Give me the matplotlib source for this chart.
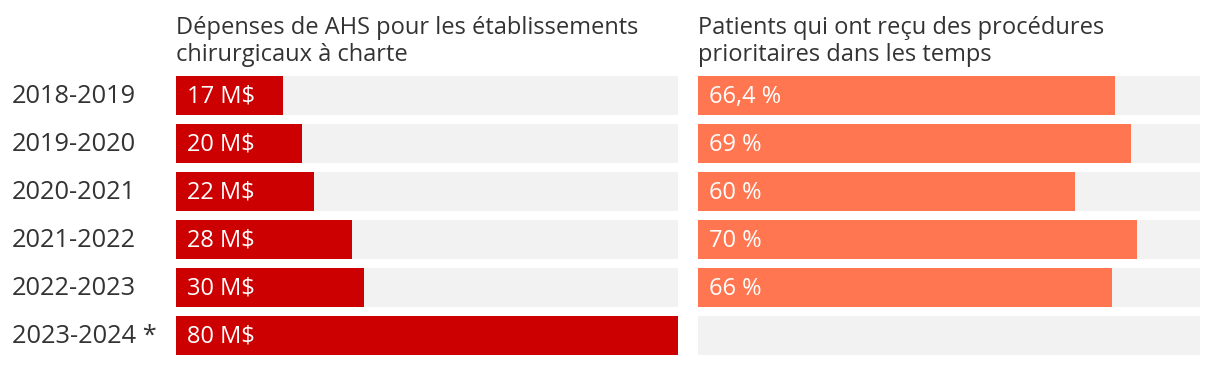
import matplotlib
matplotlib.use("Agg")
import matplotlib.pyplot as plt

# data
years = ["2018-2019", "2019-2020", "2020-2021", "2021-2022", "2022-2023", "2023-2024 *"]
spending = [17, 20, 22, 28, 30, 80]          # M$
spending_labels = ["17 M$", "20 M$", "22 M$", "28 M$", "30 M$", "80 M$"]
on_time = [66.4, 69, 60, 70, 66, None]       # %
on_time_labels = ["66,4 %", "69 %", "60 %", "70 %", "66 %", ""]
scale_max = 80

titles = ["Dépenses de AHS pour les établissements\nchirurgicaux à charte",
          "Patients qui ont reçu des procédures\nprioritaires dans les temps"]

plt.rcParams['font.family'] = ['Open Sans', 'DejaVu Sans']
TEXT = "#333333"
GREY = "#f2f2f2"
COLORS = ["#cc0000", "#ff7650"]
FS = 17

W, H = 1220, 366
fig = plt.figure(figsize=(W / 100, H / 100), dpi=100)

bottom = (H - 359.5) / H
height = 288 / H
panels = [(176, spending, spending_labels), (698, on_time, on_time_labels)]

for i, (x0, vals, labels) in enumerate(panels):
    ax = fig.add_axes([x0 / W, bottom, 502 / W, height])
    ypos = list(range(len(years)))
    ax.barh(ypos, [scale_max] * len(years), height=0.8125, color=GREY, zorder=1)
    for y, v, lab in zip(ypos, vals, labels):
        if v is None:
            continue
        ax.barh(y, v, height=0.8125, color=COLORS[i], zorder=2)
        ax.annotate(lab, (0, y), xytext=(7.9, -1), textcoords="offset points",
                    ha="left", va="center", color="white", fontsize=FS, zorder=3)
    ax.set_xlim(0, scale_max)
    ax.set_ylim(len(years) - 0.5, -0.5)
    ax.set_axis_off()
    fig.text(x0 / W, (H - 61) / H, titles[i], ha="left", va="baseline",
             fontsize=FS, color=TEXT, linespacing=1.15)

for k, yr in enumerate(years):
    yc = 96.5 + 48 * k
    fig.text(12 / W, (H - yc) / H, yr, ha="left", va="center",
             fontsize=18.3, color=TEXT)

fig.savefig("out.png", dpi=100)
